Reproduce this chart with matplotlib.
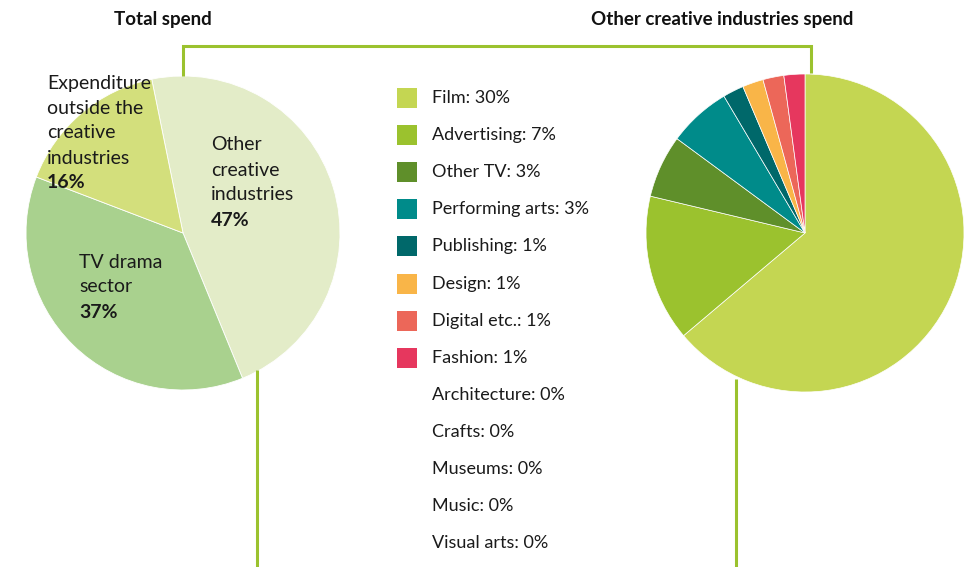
import matplotlib
matplotlib.use("Agg")
import matplotlib.pyplot as plt
from matplotlib.lines import Line2D
from matplotlib.patches import Rectangle

W, H = 972, 567
DPI = 100

# ---- data ----
total_labels = ["Other\ncreative\nindustries", "TV drama\nsector", "Expenditure\noutside the\ncreative\nindustries"]
total_values = [47, 37, 16]
total_colors = ["#e3ecc8", "#a9d18e", "#d3df7c"]

other_labels = ["Film", "Advertising", "Other TV", "Performing arts", "Publishing",
                "Design", "Digital etc.", "Fashion", "Architecture", "Crafts",
                "Museums", "Music", "Visual arts"]
other_values = [30, 7, 3, 3, 1, 1, 1, 1, 0, 0, 0, 0, 0]
other_colors = ["#c4d652", "#9bc22e", "#5f8f2a", "#008b8a", "#00686a",
                "#f9b548", "#ec6759", "#e6375e", None, None, None, None, None]

plt.rcParams['font.family'] = ['Lato', 'DejaVu Sans']
fig = plt.figure(figsize=(W / DPI, H / DPI), dpi=DPI)
fig.patch.set_facecolor("white")

def fx(x):
    return x / W

def fy(y):
    return 1 - y / H

def pie_axes(cx, cy, r):
    ax = fig.add_axes([fx(cx - r), fy(cy + r), 2 * r / W, 2 * r / H])
    return ax

def finish(ax):
    ax.set_xlim(-1, 1)
    ax.set_ylim(-1, 1)
    ax.axis("off")

# ---- left pie ----
ax1 = pie_axes(183, 233, 157)
ax1.pie(total_values, colors=total_colors, startangle=101.5, counterclock=False,
        radius=1, center=(0, 0), wedgeprops=dict(edgecolor="white", linewidth=0.6))
finish(ax1)

label_pos = [(211, 145), (79, 262), (47, 83)]
line_h = 25
for lab, val, (x, y) in zip(total_labels, total_values, label_pos):
    lines = lab.split("\n")
    for i, ln in enumerate(lines):
        fig.text(fx(x), fy(y + i * line_h), ln, fontsize=14, color="#1a1a1a",
                 ha="left", va="center")
    fig.text(fx(x), fy(y + len(lines) * line_h), f"{val}%", fontsize=14,
             fontweight="bold", color="#1a1a1a", ha="left", va="center")

# ---- right pie ----
ax2 = pie_axes(805, 233, 159)
nz = [(v, c) for v, c in zip(other_values, other_colors) if v > 0]
ax2.pie([v for v, c in nz], colors=[c for v, c in nz], startangle=90,
        counterclock=False, radius=1, center=(0, 0),
        wedgeprops=dict(edgecolor="white", linewidth=0.5))
finish(ax2)

# ---- legend ----
y0, dy = 98, 37.1
for i, (lab, val, col) in enumerate(zip(other_labels, other_values, other_colors)):
    y = y0 + i * dy
    if col is not None:
        fig.patches.append(Rectangle((fx(397), fy(y + 10)), 20 / W, 20 / H,
                                     transform=fig.transFigure, facecolor=col,
                                     edgecolor="none"))
    fig.text(fx(432), fy(y), f"{lab}: {val}%", fontsize=13, color="#1a1a1a",
             ha="left", va="center")

# ---- titles ----
fig.text(fx(163), fy(20), "Total spend", fontsize=13.5, fontweight="bold",
         ha="center", va="center", color="#111111")
fig.text(fx(722), fy(20), "Other creative industries spend", fontsize=13.5,
         fontweight="bold", ha="center", va="center", color="#111111")

# ---- connector lines ----
lc = "#9bc22e"
lw = 2.2
def seg(xs, ys):
    fig.add_artist(Line2D([fx(x) for x in xs], [fy(y) for y in ys],
                          transform=fig.transFigure, color=lc, linewidth=lw,
                          solid_capstyle="butt", solid_joinstyle="miter"))

seg([183, 183, 811, 811], [76, 46, 46, 73])
seg([257, 257], [370, 567])
seg([736, 736], [379, 567])

fig.savefig("out.png", dpi=DPI, facecolor="white")
